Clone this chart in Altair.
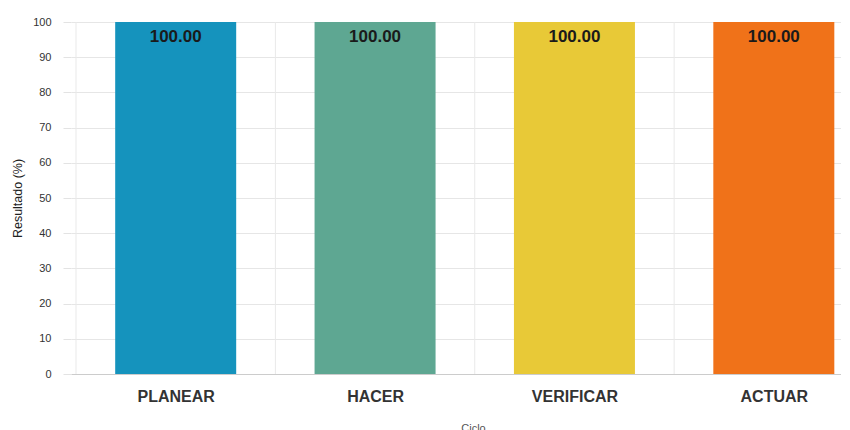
import altair as alt
import pandas as pd

ciclos = ["PLANEAR", "HACER", "VERIFICAR", "ACTUAR"]
resultados = [100.0, 100.0, 100.0, 100.0]
colores = ["#1593bd", "#5ea792", "#e8c937", "#f07219"]
y_ticks = [0, 10, 20, 30, 40, 50, 60, 70, 80, 90, 100]

df = pd.DataFrame({"Ciclo": ciclos, "Resultado": resultados, "orden": list(range(len(ciclos)))})
df["Etiqueta"] = df["Resultado"].map(lambda v: f"{v:.2f}")

FONT = "Liberation Sans"
PLOT_W = 770
STEP = 202

nombres_js = "[" + ",".join(f"'{c}'" for c in ciclos) + "]"
x_scale = alt.Scale(domain=[0, PLOT_W / STEP], nice=False, zero=False)
x_axis = alt.Axis(
    values=[i + 0.5 for i in range(len(ciclos))],
    labelExpr=f"{nombres_js}[floor(datum.value)]",
    labelAngle=0,
    labelFont=FONT,
    labelFontSize=16,
    labelFontWeight="bold",
    labelColor="#333333",
    labelPadding=14,
    labelFlush=False,
    ticks=False,
    grid=False,
    domain=True,
    domainColor="#cccccc",
    titleFont=FONT,
    titleFontSize=11,
    titleFontWeight="normal",
    titleColor="#555555",
    titlePadding=18,
    titleX=402,
    titleAlign="center",
)

y_enc = alt.Y(
    "Resultado:Q",
    title="Resultado (%)",
    scale=alt.Scale(domain=[0, 100], nice=False),
    axis=alt.Axis(
        values=y_ticks,
        labelFont=FONT,
        labelFontSize=11,
        labelColor="#333333",
        labelPadding=12,
        tickSize=8,
        tickColor="#e3e3e3",
        domain=False,
        grid=True,
        gridColor="#e6e6e6",
        titleFont=FONT,
        titleFontSize=12.5,
        titleFontWeight="normal",
        titleColor="#222222",
        titlePadding=8,
    ),
)

base = alt.Chart(df).transform_calculate(centro="datum.orden + 0.5")

vgrid = base.mark_rule(color="#e9e9e9", strokeWidth=1).encode(
    x=alt.X("orden:Q", title="Ciclo", scale=x_scale, axis=x_axis),
    y=y_enc,
    y2=alt.datum(0),
)

bars = base.mark_bar(size=121).encode(
    x=alt.X("centro:Q", title="Ciclo", scale=x_scale, axis=x_axis),
    y=y_enc,
    color=alt.Color("Ciclo:N", scale=alt.Scale(domain=ciclos, range=colores), legend=None),
)

labels = base.mark_text(
    baseline="top", dy=7, font=FONT, fontSize=17, fontWeight="bold", color="#1a1a1a"
).encode(
    x=alt.X("centro:Q", title="Ciclo", scale=x_scale, axis=x_axis),
    y=y_enc,
    text="Etiqueta:N",
)

chart = (
    alt.layer(vgrid, bars, labels)
    .properties(
        width=PLOT_W,
        height=352,
        padding={"left": 3, "top": 8, "right": 0, "bottom": 0},
    )
    .configure_view(stroke=None)
)

chart.save("out.html", embed_options={"renderer": "svg", "actions": False})
